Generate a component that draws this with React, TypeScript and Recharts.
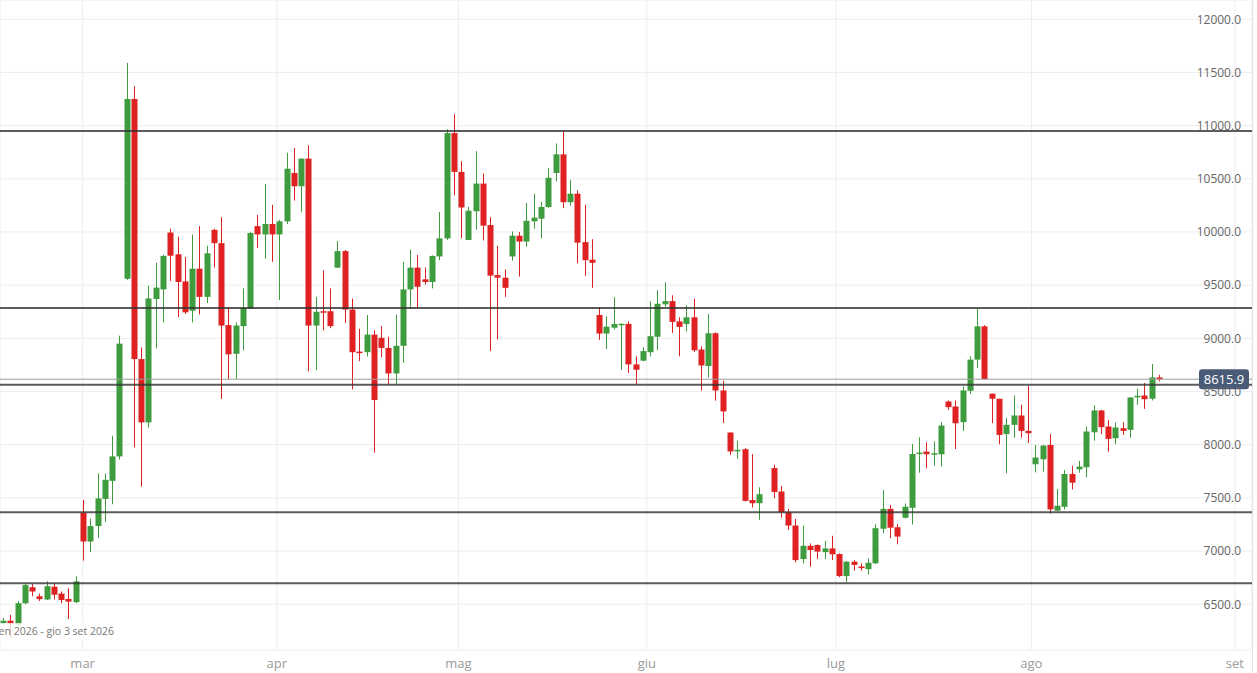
import { Bar, CartesianGrid, ComposedChart, ReferenceLine, XAxis, YAxis } from 'recharts';

// Daily OHLC, oldest first. One trading slot (gapSlot) has no candle.
const opens = [
  6320, 6345, 6310, 6510, 6660, 6575, 6545, 6665, 6600, 6550,
  6520, 7360, 7090, 7235, 7490, 7660, 7890, 9560, 11250, 8805,
  8210, 9370, 9460, 9995, 9790, 9535, 9260, 9655, 9390, 10020,
  9895, 9125, 8855, 9115, 9280, 10055, 9977, 10075, 9977, 10100,
  10555, 10430, 10690, 9120, 9255, 9255, 9665, 9820, 9270, 8875,
  8870, 9035, 9005, 8910, 8670, 8930, 9460, 9665, 9555, 9530,
  9770, 9940, 10930, 10565, 9925, 10195, 10455, 10065, 9595, 9570,
  9770, 9965, 9910, 10100, 10125, 10235, 10555, 10730, 10280, 10360,
  9905, 9740, 9220, 9045, 9100, 9130, 9136, 8755, 8790, 8870,
  9015, 9320, 9350, 9160, 9135, 9198, 8895, 8740, 9048, 8510,
  8115, 7944, 7958, 7480, 7450, 7780, 7560, 7365, 7240, 6925,
  7050, 7057, 6990, 7025, 6972, 6765, 6900, 6855, 6830, 6885,
  7210, 7397, 7224, 7313, 7407, 7913, 7935, 7910, 7910, 8406,
  8359, 8212, 8507, 8800, 9113, 8480, 8432, 8100, 8187, 8275,
  8130, 7816, 7863, 7998, 7380, 7417, 7725, 7769, 7788, 8117,
  8322, 8171, 8061, 8155, 8140, 8447, 8463, 8432, 8633,
];

const highs = [
  6370, 6400, 6530, 6700, 6690, 6600, 6715, 6700, 6620, 6650,
  6763, 7480, 7305, 7730, 7730, 8084, 9025, 11590, 11370, 8915,
  9495, 9710, 9785, 10030, 9955, 9765, 9975, 10055, 9870, 10030,
  10140, 9295, 9150, 9470, 10000, 10160, 10450, 10255, 10115, 10745,
  10790, 10690, 10815, 9390, 9640, 9470, 9915, 9830, 9375, 9090,
  9220, 9075, 9115, 9015, 9222, 9720, 9835, 9783, 9667, 9780,
  10187, 10965, 11110, 10666, 10235, 10760, 10550, 10140, 9870, 9648,
  10005, 10000, 10272, 10360, 10282, 10603, 10833, 10950, 10490, 10392,
  10256, 9932, 9295, 9207, 9387, 9140, 9160, 8830, 8916, 9349,
  9453, 9528, 9405, 9198, 9311, 9374, 8925, 9230, 9057, 8602,
  8115, 8037, 7968, 7911, 7600, 7811, 7613, 7397, 7302, 7240,
  7073, 7063, 7095, 7144, 6978, 6906, 6915, 6885, 6931, 7252,
  7575, 7434, 7255, 7448, 8007, 8070, 8023, 8030, 8212, 8416,
  8416, 8548, 8831, 9280, 9123, 8480, 8432, 8250, 8463, 8375,
  8554, 7998, 7998, 8102, 7583, 7762, 7803, 7847, 8171, 8369,
  8328, 8234, 8209, 8212, 8444, 8526, 8580, 8758, 8658,
];

const lows = [
  6310, 6190, 6300, 6500, 6575, 6530, 6540, 6545, 6510, 6360,
  6510, 6910, 6990, 7125, 7275, 7440, 7860, 9550, 7975, 7606,
  8160, 8905, 9150, 9540, 9200, 9230, 9150, 9225, 9330, 9665,
  8430, 8610, 8615, 8887, 9275, 9850, 9750, 9720, 9360, 10075,
  10295, 10185, 8690, 8700, 9075, 9095, 9660, 9145, 8520, 8785,
  8830, 7925, 8822, 8565, 8563, 8770, 9280, 9280, 9505, 9470,
  9735, 9925, 10345, 9940, 9925, 10020, 9920, 8880, 8990, 9390,
  9730, 9580, 9862, 10030, 9940, 10225, 10477, 10225, 10247, 9705,
  9588, 9475, 8986, 8900, 9082, 8705, 8674, 8565, 8784, 8830,
  8888, 9296, 9050, 8831, 9066, 8872, 8508, 8633, 8414, 8203,
  7905, 7868, 7466, 7409, 7293, 7497, 7315, 7199, 6894, 6884,
  6853, 6926, 6926, 6916, 6754, 6706, 6815, 6815, 6780, 6879,
  7167, 7120, 7064, 7307, 7250, 7737, 7778, 7803, 7794, 8328,
  7960, 8130, 8476, 8721, 8611, 8202, 8004, 7731, 8067, 8067,
  8014, 7740, 7747, 7354, 7376, 7392, 7580, 7737, 7693, 8039,
  8099, 7935, 8004, 8092, 8067, 8375, 8337, 8416, 8595,
];

const closes = [
  6345, 6318, 6510, 6680, 6620, 6548, 6670, 6590, 6540, 6525,
  6715, 7090, 7235, 7495, 7670, 7890, 8950, 11250, 8805, 8210,
  9375, 9477, 9775, 9777, 9530, 9245, 9655, 9390, 9800, 9895,
  9120, 8850, 9120, 9285, 9990, 9977, 10075, 9977, 10100, 10595,
  10430, 10690, 9120, 9250, 9250, 9115, 9820, 9270, 8870, 8865,
  9035, 8420, 8910, 8670, 8930, 9460, 9665, 9485, 9530, 9775,
  9940, 10930, 10565, 10230, 10200, 10455, 10060, 9590, 9570, 9475,
  9965, 9910, 10105, 10135, 10235, 10510, 10730, 10280, 10360, 9900,
  9735, 9710, 9045, 9110, 9135, 9137, 8755, 8705, 8880, 9020,
  9325, 9350, 9155, 9108, 9198, 8888, 8745, 9048, 8510, 8313,
  7937, 7952, 7472, 7450, 7535, 7555, 7365, 7240, 6915, 7050,
  7010, 6995, 7025, 6970, 6765, 6900, 6870, 6840, 6890, 7215,
  7397, 7220, 7136, 7417, 7913, 7926, 7910, 7920, 8180, 8353,
  8202, 8510, 8800, 9113, 8617, 8432, 8092, 8187, 8275, 8130,
  8108, 7880, 7992, 7392, 7426, 7725, 7643, 7794, 8124, 8322,
  8165, 8055, 8162, 8130, 8444, 8460, 8428, 8633, 8615.9,
];

const gapSlot = 106;

// support / resistance levels drawn across the chart
const levels = [10950, 9285, 8563, 7365, 6698];
const lastPrice = 8615.9;

const monthLabels = ['mar', 'apr', 'mag', 'giu', 'lug', 'ago', 'set'];
const monthSlots = [12, 38.7, 63.7, 89.6, 115.6, 142.5, 170.5];

const priceTicks = [6500, 7000, 7500, 8000, 8500, 9000, 9500, 10000, 10500, 11000, 11500, 12000];

const rangeLabel = 'ven 2 gen 2026 - gio 3 set 2026';

const candles = opens.map((open, i) => ({
  slot: i + 1 < gapSlot ? i + 1 : i + 2,
  open,
  high: highs[i],
  low: lows[i],
  close: closes[i],
  range: [lows[i], highs[i]],
}));

const FONT = '"Open Sans", sans-serif';

function Candle(props: any) {
  const { x, y, width, height, payload } = props;
  if (!payload || x == null) return null;
  const { open, close, high, low } = payload;
  const color = close >= open ? '#3e9c3e' : '#df2121';
  const top = Math.min(y, y + height);
  const h = Math.abs(height);
  const span = high - low || 1;
  const toY = (v: number) => top + ((high - v) / span) * h;
  const bodyTop = toY(Math.max(open, close));
  const bodyBottom = toY(Math.min(open, close));
  const cx = Math.round(x + width / 2) + 0.5;
  return (
    <g>
      <line x1={cx} x2={cx} y1={top} y2={top + h} stroke={color} strokeWidth={1} />
      <rect
        x={cx - 3}
        y={bodyTop}
        width={6}
        height={Math.max(1.5, bodyBottom - bodyTop)}
        fill={color}
      />
    </g>
  );
}

function PriceTag(props: any) {
  const { viewBox } = props;
  if (!viewBox) return null;
  const right = viewBox.x + viewBox.width;
  const y = viewBox.y;
  return (
    <g>
      <rect x={right - 53} y={y - 10} width={50} height={20} rx={3} fill="#4a5b78" />
      <text
        x={right - 28}
        y={y}
        dy="0.36em"
        textAnchor="middle"
        fill="#fff"
        fontSize={13}
        fontFamily={FONT}
      >
        {lastPrice.toFixed(1)}
      </text>
    </g>
  );
}

export default function App() {
  return (
    <div style={{ position: 'absolute', left: 0, top: 0, width: 1257, height: 673, background: '#fff' }}>
      <div style={{ position: 'absolute', left: 0, top: 0, width: 1252, height: 673, borderRight: '1px solid #e4e4e4' }}>
        <ComposedChart
          width={1252}
          height={673}
          data={candles}
          margin={{ top: 0, right: 0, bottom: 0, left: 0 }}
        >
          <CartesianGrid stroke="#ededed" strokeWidth={1} />
          <XAxis
            type="number"
            dataKey="slot"
            domain={[0.63, 172.85]}
            allowDataOverflow
            ticks={monthSlots}
            interval={0}
            tickFormatter={(v: number) => monthLabels[monthSlots.indexOf(v)] ?? ''}
            axisLine={false}
            tickLine={false}
            tickSize={0}
            tickMargin={9}
            height={23}
            tick={{ fontSize: 13, fill: '#9a9a9a', fontFamily: FONT }}
          />
          <YAxis
            orientation="right"
            mirror
            domain={[6070, 12181]}
            allowDataOverflow
            ticks={priceTicks}
            interval={0}
            axisLine={false}
            tickLine={false}
            tickSize={0}
            tickMargin={11}
            tick={{ fontSize: 12, fill: '#666', fontFamily: FONT }}
            tickFormatter={(v: number) => v.toFixed(1)}
          />
          <Bar dataKey="range" barSize={6} shape={<Candle />} isAnimationActive={false} />
          {levels.map((v) => (
            <ReferenceLine key={v} y={v} stroke="rgba(50,50,50,0.8)" strokeWidth={2} />
          ))}
          <ReferenceLine y={lastPrice} stroke="#9c9c9c" strokeWidth={1} label={<PriceTag />} />
        </ComposedChart>
      </div>
      <div
        style={{
          position: 'absolute',
          left: 0,
          top: 623,
          width: 114,
          height: 16,
          overflow: 'hidden',
          display: 'flex',
          justifyContent: 'flex-end',
          alignItems: 'center',
          whiteSpace: 'nowrap',
          background: 'rgba(255,255,255,0.75)',
          fontFamily: FONT,
          fontSize: 10.5,
          color: '#777',
        }}
      >
        <span style={{ flexShrink: 0 }}>{rangeLabel}</span>
      </div>
    </div>
  );
}
